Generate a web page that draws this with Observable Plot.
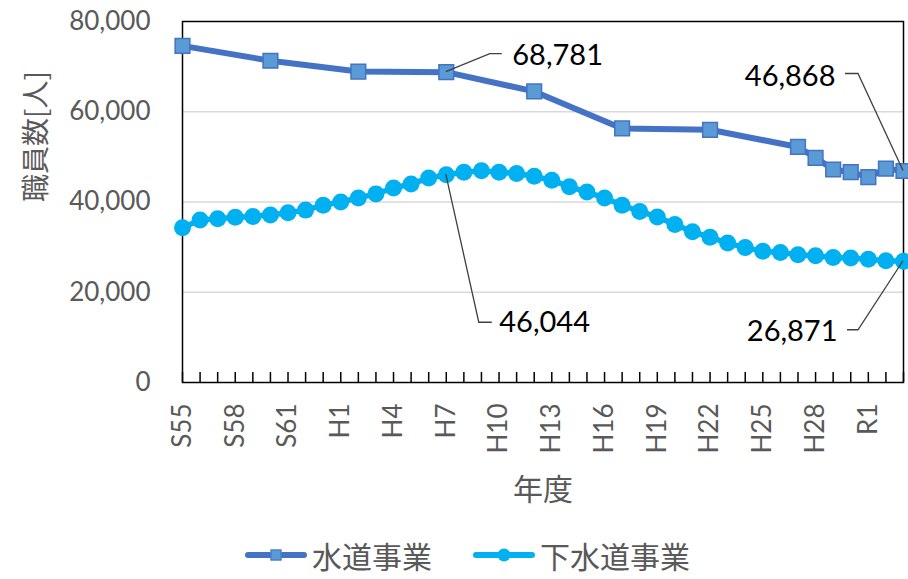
<!DOCTYPE html>
<html><head><meta charset="utf-8">
<script src="https://cdn.jsdelivr.net/npm/d3@7"></script>
<script src="https://cdn.jsdelivr.net/npm/@observablehq/plot@0.6"></script>
<style>
body{margin:0;background:#fff;}
#chart{width:908px;height:530px;}
.legend{position:relative;height:49px;width:908px;font-family:"Noto Sans CJK JP",sans-serif;font-size:30px;line-height:36px;color:#595959;}
.item{position:absolute;top:0;height:49px;display:flex;align-items:center;}
.sw{position:relative;width:62px;height:6px;border-radius:3px;margin-right:5px;}
.sw .m{position:absolute;left:50%;top:50%;transform:translate(-50%,-50%);}
</style></head><body>
<div id="chart"></div>
<div class="legend" id="legend"></div>
<script>
// ---- data ----
const seriesNames = ["水道事業", "下水道事業"];
const waterYears = [1980,1985,1990,1995,2000,2005,2010,2015,2016,2017,2018,2019,2020,2021];
const waterValues = [74600,71300,68900,68781,64500,56300,56000,52200,49800,47200,46600,45500,47400,46868];
const sewerYears = [1980,1981,1982,1983,1984,1985,1986,1987,1988,1989,1990,1991,1992,1993,1994,1995,1996,1997,1998,1999,2000,2001,2002,2003,2004,2005,2006,2007,2008,2009,2010,2011,2012,2013,2014,2015,2016,2017,2018,2019,2020,2021];
const sewerValues = [34300,36000,36300,36600,36800,37100,37600,38200,39300,40000,40900,41800,43100,44000,45300,46044,46600,46900,46600,46300,45700,44800,43400,42200,40900,39300,37900,36700,35000,33400,32200,30900,29900,29100,28800,28300,28100,27700,27600,27300,27000,26871];
const xTickYears = [1980,1983,1986,1989,1992,1995,1998,2001,2004,2007,2010,2013,2016,2019];
const xTickLabels = ["S55","S58","S61","H1","H4","H7","H10","H13","H16","H19","H22","H25","H28","R1"];
const yTicks = [0,20000,40000,60000,80000];
const yGrid = [20000,40000,60000];
const annotYears = [1995,1995,2021,2021];
const annotValues = [68781,46044,46868,26871];
const xTitle = "年度";
const yTitle = "職員数[人]";

// ---- styles ----
const W = 908, H = 530, mL = 182, mR = 5, mT = 21, mB = 148;
const plotH = H - mT - mB;
const waterColor = "#4472C4", waterFill = "#5B9BD5", sewerColor = "#00B0F0";
const grey = "#595959";
const fmt = d3.format(",");
// leader offsets in px: [elbowDx, elbowDy, endDx, textDx, textDy, anchor]
const leaderStyle = [
  [44,-18,56,66,-16,"start"],
  [33,148,46,53,148,"start"],
  [-45,-97,-58,-68,-94,"end"],
  [-45,69,-56,-66,70,"end"]
];

const water = waterYears.map((y,i)=>({year:y, value:waterValues[i]}));
const sewer = sewerYears.map((y,i)=>({year:y, value:sewerValues[i]}));
const annots = annotYears.map((y,i)=>({year:y, value:annotValues[i], label:fmt(annotValues[i]), s:leaderStyle[i]}));

const leaders = (index, scales) => {
  const g = d3.create("svg:g");
  for (const a of annots) {
    const px = scales.x(a.year), py = scales.y(a.value);
    const [ex, ey, tx] = a.s;
    g.append("path")
      .attr("d", `M${px},${py}L${px+ex},${py+ey}L${px+tx},${py+ey}`)
      .attr("fill","none").attr("stroke","#404040").attr("stroke-width",1.3);
  }
  return g.node();
};

const chart = Plot.plot({
  width: W, height: H,
  marginLeft: mL, marginRight: mR, marginTop: mT, marginBottom: mB,
  style: {fontFamily: "Lato, 'Noto Sans CJK JP', sans-serif", background: "#fff", overflow: "visible"},
  x: {domain: [1980, 2021]},
  y: {domain: [0, 80000]},
  marks: [
    Plot.gridY(yGrid, {stroke: "#d9d9d9", strokeOpacity: 1, strokeWidth: 1.5}),
    Plot.axisY({ticks: yTicks, tickFormat: fmt, tickSize: 0, tickPadding: 32, fontSize: 26, color: grey, label: null}),
    Plot.axisX({ticks: xTickYears, tickFormat: d => xTickLabels[xTickYears.indexOf(d)], tickRotate: -90, tickSize: 0, tickPadding: 21, fontSize: 26, color: grey, label: null}),
    Plot.ruleX(sewerYears, {x: d => d, insetTop: plotH - 10, stroke: "#000", strokeWidth: 1.5}),
    Plot.frame({stroke: "#000", strokeWidth: 1.5}),
    Plot.text([yTitle], {frameAnchor: "left", rotate: -90, dx: -145, fontSize: 28, fill: grey, fontFamily: "'Noto Sans CJK JP'"}),
    Plot.text([xTitle], {frameAnchor: "bottom", dy: 117, fontSize: 30, fill: grey, fontFamily: "'Noto Sans CJK JP'"}),
    Plot.line(water, {x: "year", y: "value", stroke: waterColor, strokeWidth: 6}),
    Plot.dot(water, {x: "year", y: "value", symbol: "square", r: 8.3, fill: waterFill, stroke: waterColor, strokeWidth: 1.5}),
    Plot.line(sewer, {x: "year", y: "value", stroke: sewerColor, strokeWidth: 5.5}),
    Plot.dot(sewer, {x: "year", y: "value", r: 8.5, fill: sewerColor}),
    leaders,
    ...annots.map(a => Plot.text([a], {x: "year", y: "value", text: "label", dx: a.s[3], dy: a.s[4], textAnchor: a.s[5], fontSize: 29, fill: "#000"}))
  ]
});
document.getElementById("chart").appendChild(chart);

// legend
const legend = document.getElementById("legend");
const items = [
  {name: seriesNames[0], left: 245, color: waterColor, marker: `width:11px;height:11px;background:${waterFill};border:1.5px solid ${waterColor};box-sizing:border-box;`},
  {name: seriesNames[1], left: 473, color: sewerColor, marker: `width:13px;height:13px;background:${sewerColor};border-radius:50%;`}
];
for (const it of items) {
  const d = document.createElement("div");
  d.className = "item"; d.style.left = it.left + "px";
  d.innerHTML = `<div class="sw" style="background:${it.color}"><div class="m" style="${it.marker}"></div></div><span>${it.name}</span>`;
  legend.appendChild(d);
}
</script>
</body></html>
